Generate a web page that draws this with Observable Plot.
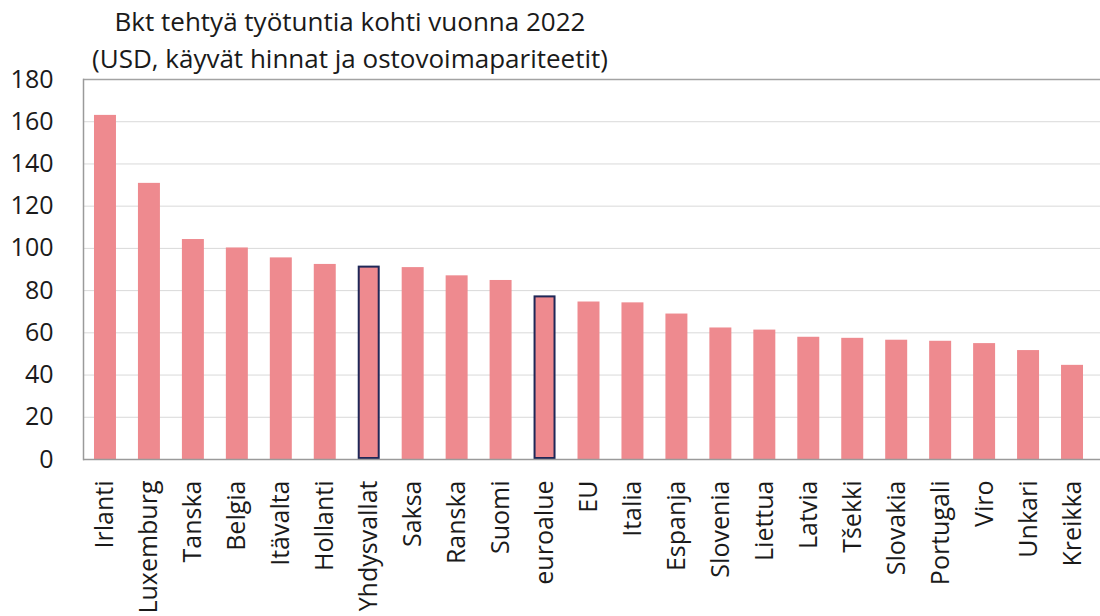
<!DOCTYPE html>
<html>
<head>
<meta charset="utf-8">
<script src="https://cdn.jsdelivr.net/npm/d3@7"></script>
<script src="https://cdn.jsdelivr.net/npm/@observablehq/plot@0.6"></script>
<style>
  html, body { margin: 0; padding: 0; background: #fff; }
  #wrap { position: relative; width: 1100px; height: 616px; overflow: hidden; font-family: "Open Sans", sans-serif; color: #1a1a1a; }
  .title { position: absolute; left: 0; width: 700px; text-align: center; font-size: 26px; line-height: 26px; white-space: nowrap; }
  #chart { position: absolute; left: 0; top: 0; }
</style>
</head>
<body>
<div id="wrap">
  <div id="chart"></div>
  <div class="title" id="t1" style="top:8px"></div>
  <div class="title" id="t2" style="top:45px"></div>
</div>
<script>
const titleLines = [
  "Bkt tehtyä työtuntia kohti vuonna 2022",
  "(USD, käyvät hinnat ja ostovoimapariteetit)"
];
const categories = [
  "Irlanti", "Luxemburg", "Tanska", "Belgia", "Itävalta", "Hollanti",
  "Yhdysvallat", "Saksa", "Ranska", "Suomi", "euroalue", "EU", "Italia",
  "Espanja", "Slovenia", "Liettua", "Latvia", "Tšekki", "Slovakia",
  "Portugali", "Viro", "Unkari", "Kreikka"
];
const values = [
  163.0, 130.8, 104.2, 100.2, 95.5, 92.4,
  91.6, 90.9, 87.0, 84.8, 77.5, 74.6, 74.2,
  68.9, 62.3, 61.3, 57.9, 57.4, 56.5,
  56.0, 54.9, 51.6, 44.6
];
const highlighted = ["Yhdysvallat", "euroalue"];
const yTicks = [0, 20, 40, 60, 80, 100, 120, 140, 160, 180];

document.getElementById("t1").textContent = titleLines[0];
document.getElementById("t2").textContent = titleLines[1];

const data = categories.map((c, i) => ({ country: c, value: values[i] }));
const barColor = "#EE8A8F";
const outline = "#1F2757";

const chart = Plot.plot({
  width: 1100,
  height: 616,
  marginTop: 79,
  marginBottom: 157,
  marginLeft: 83,
  marginRight: 6,
  style: { fontFamily: "Open Sans, sans-serif", fontSize: "25px", color: "#1a1a1a", background: "transparent" },
  x: { domain: categories, paddingInner: 0.5, paddingOuter: 0.25, round: false, label: null },
  y: { domain: [0, 180], label: null },
  marks: [
    Plot.ruleY(yTicks.filter(t => t > 0 && t < 180), { stroke: "#d9d9d9", strokeWidth: 1, insetRight: -6 }),
    Plot.ruleY([180], { stroke: "#a3a3a3", strokeWidth: 1.5, insetRight: -6 }),
    Plot.barY(data.filter(d => !highlighted.includes(d.country)), { x: "country", y: "value", fill: barColor }),
    Plot.barY(data.filter(d => highlighted.includes(d.country)), { x: "country", y: "value", fill: barColor, stroke: outline, strokeWidth: 2, inset: 1 }),
    Plot.ruleY([0], { stroke: "#9a9a9a", strokeWidth: 1.5, insetRight: -6 }),
    Plot.frame({ anchor: "left", stroke: "#9a9a9a", strokeWidth: 1.5 }),
    Plot.axisY({ ticks: yTicks, tickSize: 0, tickPadding: 30, fontSize: 25, fill: "#1a1a1a" }),
    Plot.axisX({ tickSize: 0, tickPadding: 21, tickRotate: -90, fontSize: 25, fill: "#1a1a1a" })
  ]
});
document.getElementById("chart").appendChild(chart);
</script>
</body>
</html>
